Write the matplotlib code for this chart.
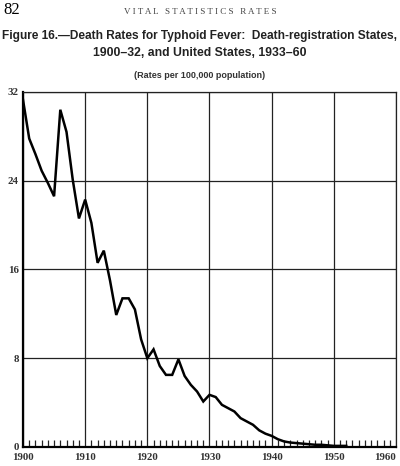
import matplotlib
matplotlib.use("Agg")
import matplotlib.pyplot as plt
from matplotlib.ticker import MultipleLocator

# --- Data (deaths per 100,000 population) ---
years = list(range(1900, 1953))
rates = [
    31.3, 27.8, 26.4, 24.9, 23.8, 22.6, 30.4, 28.4, 24.1, 20.6,   # 1900-09
    22.3, 20.2, 16.6, 17.7, 15.0, 11.9, 13.4, 13.4, 12.4, 9.7,    # 1910-19
    8.0, 8.8, 7.3, 6.5, 6.5, 7.9, 6.4, 5.6, 5.0, 4.1,             # 1920-29
    4.7, 4.5, 3.8, 3.5, 3.2, 2.6, 2.3, 2.0, 1.5, 1.2,             # 1930-39
    1.0, 0.7, 0.5, 0.4, 0.35, 0.3, 0.25, 0.2, 0.2, 0.15,          # 1940-49
    0.1, 0.1, 0.1,                                                # 1950-52
]
x_ticks = [1900, 1910, 1920, 1930, 1940, 1950, 1960]
y_ticks = [0, 8, 16, 24, 32]

fig = plt.figure(figsize=(4.0, 4.66), dpi=100)
ax = fig.add_axes([0.0575, 0.0408, 0.9325, 0.7618])

ax.plot(years, rates, color="black", lw=1.8, solid_joinstyle="miter", zorder=3)

ax.set_xlim(1900, 1960)
ax.set_ylim(0, 32)
ax.set_xticks(x_ticks)
ax.set_yticks(y_ticks)
ax.xaxis.set_minor_locator(MultipleLocator(1))
ax.grid(True, which="major", color="#222222", lw=0.9)

# year ticks stand up from the base line
ax.tick_params(axis="x", which="minor", direction="in", length=5, width=0.9, color="#222222")
ax.tick_params(axis="x", which="major", length=0, pad=4)
ax.tick_params(axis="y", which="major", length=0, pad=3)
for lab in ax.get_xticklabels() + ax.get_yticklabels():
    lab.set_family("Liberation Serif")
    lab.set_fontweight("bold")
    lab.set_fontsize(7.8)
    lab.set_color("#333333")
ax.get_xticklabels()[-1].set_horizontalalignment("right")

for side in ["top", "right"]:
    ax.spines[side].set_linewidth(0.9)
    ax.spines[side].set_color("#222222")
for side in ["left", "bottom"]:
    ax.spines[side].set_linewidth(1.6)
    ax.spines[side].set_color("black")

# --- Page header and titles ---
fig.text(0.008, 0.978, "82", family="Liberation Serif", fontsize=12, va="center", ha="left")
fig.text(0.5, 0.974, "V I T A L   S T A T I S T I C S   R A T E S", family="Liberation Serif",
         fontsize=6.5, va="center", ha="center", color="#444444")
fig.text(0.5, 0.922, "Figure 16.\u2014Death Rates for Typhoid Fever:  Death-registration States,",
         family="Liberation Sans", fontweight="bold", fontsize=8.6, va="center", ha="center",
         color="#222222")
fig.text(0.5, 0.886, "1900\u201332, and United States, 1933\u201360",
         family="Liberation Sans", fontweight="bold", fontsize=8.8, va="center", ha="center",
         color="#222222")
fig.text(0.5, 0.839, "(Rates per 100,000 population)", family="Liberation Sans",
         fontweight="bold", fontsize=6.5, va="center", ha="center", color="#333333")

fig.savefig("out.png", dpi=100, facecolor="white")
